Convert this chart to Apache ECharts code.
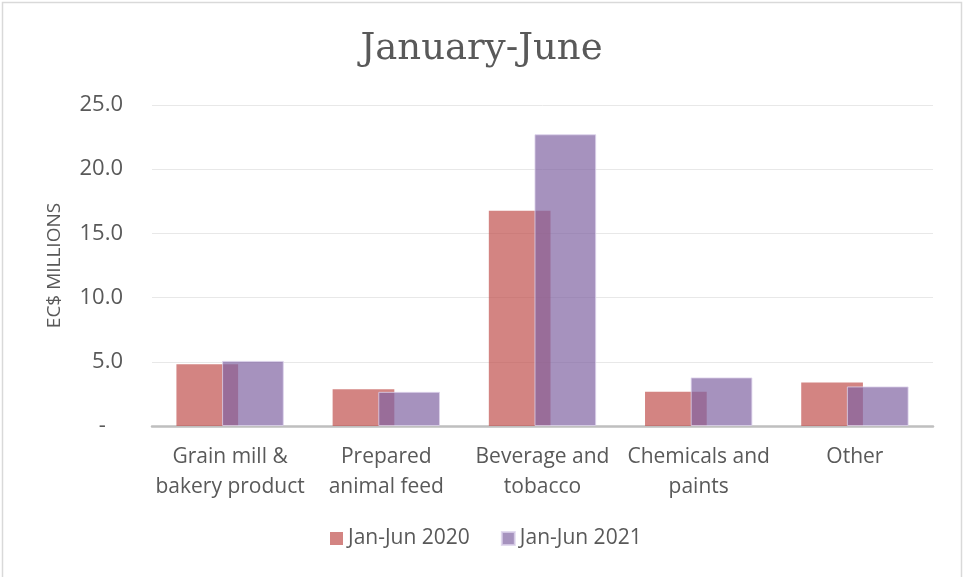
<!DOCTYPE html>
<html>
<head>
<meta charset="utf-8">
<script src="https://cdn.jsdelivr.net/npm/echarts@6/dist/echarts.min.js"></script>
<style>
  html, body { margin: 0; padding: 0; background: #fff; }
  #chart { width: 963px; height: 577px; }
</style>
</head>
<body>
<div id="chart"></div>
<script>
// Sector categories (two-line labels as shown under the axis)
const categories = [
  'Grain mill &\nbakery product',
  'Prepared\nanimal feed',
  'Beverage and\ntobacco',
  'Chemicals and\npaints',
  'Other'
];
// Values in EC$ millions
const jan2020 = [4.81, 2.87, 16.77, 2.66, 3.39];
const jan2021 = [5.07, 2.66, 22.72, 3.78, 3.08];
const seriesNames = ['Jan-Jun 2020', 'Jan-Jun 2021'];
const yTicks = [0, 5, 10, 15, 20, 25];

const textColor = '#595959';
const sans = 'Open Sans';

const chart = echarts.init(document.getElementById('chart'));
chart.setOption({
  animation: false,
  backgroundColor: '#ffffff',
  graphic: [{
    type: 'rect',
    shape: { x: 2.5, y: 2.5, width: 959, height: 590 },
    style: { fill: 'none', stroke: '#d9d9d9', lineWidth: 1.5 },
    silent: true
  }],
  title: {
    text: 'January-June',
    left: 'center',
    top: 26,
    textStyle: { fontFamily: 'DejaVu Serif', fontSize: 37, fontWeight: 'normal', color: textColor }
  },
  legend: {
    data: seriesNames,
    bottom: 23,
    left: 325,
    itemWidth: 13,
    itemHeight: 13,
    itemGap: 31,
    icon: 'rect',
    textStyle: { fontFamily: sans, fontSize: 21, color: textColor }
  },
  grid: { left: 152, right: 30, top: 105, bottom: 151 },
  xAxis: {
    type: 'category',
    data: categories,
    axisLine: { lineStyle: { color: '#bfbfbf', width: 2.5 } },
    axisTick: { show: false },
    axisLabel: {
      fontFamily: sans, fontSize: 21, color: textColor,
      lineHeight: 30, margin: 16, interval: 0
    }
  },
  yAxis: {
    type: 'value',
    min: yTicks[0],
    max: yTicks[yTicks.length - 1],
    interval: 5,
    name: 'EC$ MILLIONS',
    nameLocation: 'middle',
    nameGap: 88,
    nameTextStyle: { fontFamily: sans, fontSize: 19, color: textColor },
    axisLine: { show: false },
    axisTick: { show: false },
    splitLine: { lineStyle: { color: '#e8e8e8', width: 1 } },
    axisLabel: {
      fontFamily: sans, fontSize: 22, color: textColor, margin: 29,
      formatter: v => v === 0 ? '-   ' : v.toFixed(1)
    }
  },
  series: [
    {
      name: seriesNames[0],
      type: 'bar',
      data: jan2020,
      barWidth: '39.5%',
      barGap: '-26%',
      itemStyle: { color: 'rgba(192,80,77,0.7)' }
    },
    {
      name: seriesNames[1],
      type: 'bar',
      data: jan2021,
      barWidth: '39.5%',
      barGap: '-26%',
      itemStyle: { color: 'rgba(128,100,162,0.7)', borderColor: 'rgba(220,210,235,0.8)', borderWidth: 1 }
    }
  ]
});
</script>
</body>
</html>
